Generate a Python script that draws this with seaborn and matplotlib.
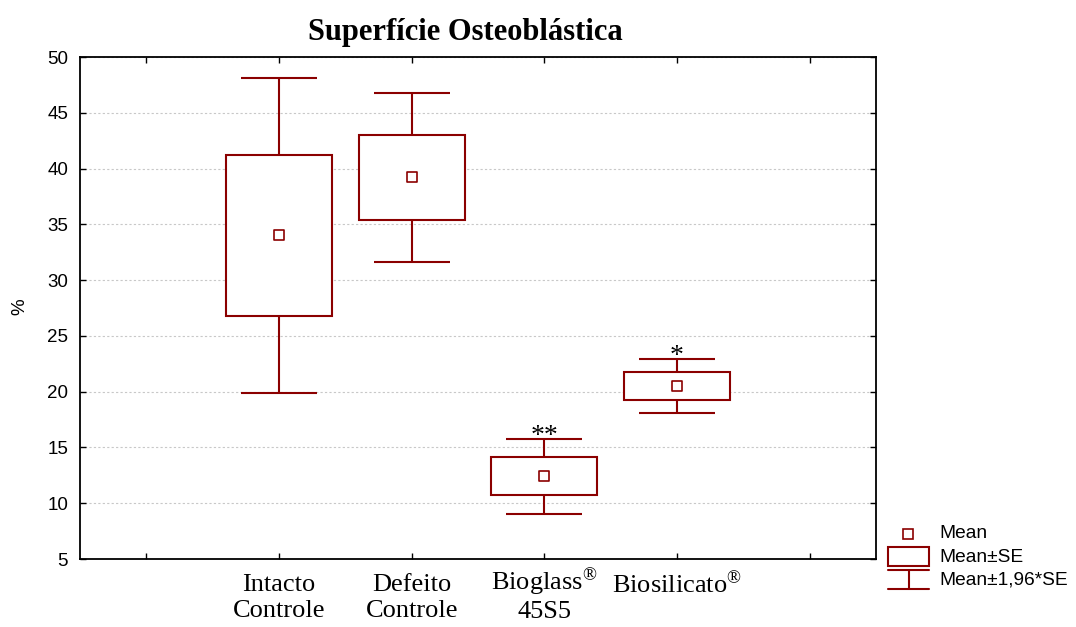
import numpy as np
import pandas as pd
import matplotlib
matplotlib.use("Agg")
import matplotlib.pyplot as plt
import matplotlib.transforms as mtransforms
from matplotlib.patches import Rectangle
import seaborn as sns

# values (mean and standard error per group)
categories = ["Intacto\nControle", "Defeito\nControle",
              r"Bioglass$^{\circledR}$" + "\n45S5", r"Biosilicato$^{\circledR}$"]
means = [34.0, 39.2, 12.4, 20.5]
se = [7.2, 3.85, 1.7, 1.25]
stars = ["", "", "**", "*"]
yticks = [5, 10, 15, 20, 25, 30, 35, 40, 45, 50]

RED = "#8b0000"
SERIF = "Liberation Serif"
SANS = "Liberation Sans"

sns.set_style("ticks")
plt.rcParams["font.family"] = [SANS, "DejaVu Sans"]
plt.rcParams["mathtext.fontset"] = "custom"
plt.rcParams["mathtext.rm"] = SERIF
plt.rcParams["mathtext.it"] = SERIF
plt.rcParams["text.color"] = "black"
plt.rcParams["xtick.color"] = "black"
plt.rcParams["ytick.color"] = "black"

pos = np.arange(len(categories))
means = np.array(means)
se = np.array(se)
df = pd.DataFrame({"pos": pos, "mean": means})

W, H = 1076, 627
fig = plt.figure(figsize=(W / 100, H / 100), dpi=100)
ax = fig.add_axes([80 / W, (H - 559) / H, 796 / W, 502 / H])

# whiskers: mean +- 1.96*SE
ax.errorbar(pos, means, yerr=1.96 * se, fmt="none", ecolor=RED,
            elinewidth=1.5, capsize=27.4, capthick=1.5, zorder=1.5)
# boxes: mean +- SE
ax.bar(pos, 2 * se, bottom=means - se, width=0.8, facecolor="white",
       edgecolor=RED, linewidth=1.5, zorder=2)
# mean markers
sns.scatterplot(data=df, x="pos", y="mean", marker="s", s=42,
                facecolor="white", edgecolor=RED, linewidth=1.2,
                zorder=3, ax=ax, legend=False)

for p, m, s, st in zip(pos, means, se, stars):
    if st:
        ax.annotate(st, xy=(p, m + 1.96 * s), xytext=(0, -3),
                    textcoords="offset points", ha="center", va="baseline",
                    fontsize=20, family=SERIF, color="black")

ax.set_xlim(-1.5, 4.5)
ax.set_ylim(5, 50)
ax.set_xticks([-1, 0, 1, 2, 3, 4])
ax.set_xticklabels([""] + categories + [""])
ax.set_yticks(yticks)
ax.set_xlabel("")
ax.set_ylabel("")
ax.tick_params(axis="both", direction="in", top=True, right=True,
               length=4.5, width=1.0, color="black")
ax.tick_params(axis="x", pad=11)
ax.tick_params(axis="y", labelsize=13.5, pad=8.5)
for lab in ax.get_xticklabels():
    lab.set_fontfamily(SERIF)
    lab.set_fontsize(19)
# the superscripts push those labels down; lift them back in line
for idx, px in [(3, 8), (4, 3)]:
    lift = mtransforms.ScaledTranslation(0, px / 100, fig.dpi_scale_trans)
    lab = ax.get_xticklabels()[idx]
    lab.set_transform(lab.get_transform() + lift)

ax.yaxis.grid(True, linestyle=(0, (2, 2)), color="#c8c8c8", linewidth=0.8)
ax.set_axisbelow(True)
for sp in ax.spines.values():
    sp.set_visible(True)
    sp.set_linewidth(1.3)
    sp.set_color("black")

fig.text(465 / W, 1 - 40 / H, "Superfície Osteoblástica", ha="center",
         va="baseline", fontsize=22, fontweight="bold", family=SERIF)
fig.text(20 / W, 1 - 307 / H, "%", rotation=90, ha="center", va="center",
         fontsize=13.5)

# legend drawn in pixel coordinates at the lower right
lax = fig.add_axes([880 / W, (H - 600) / H, 196 / W, 90 / H])
lax.set_xlim(880, 1076)
lax.set_ylim(600, 510)
lax.axis("off")
lax.plot([908], [534], marker="s", ms=6.5, mfc="white", mec=RED, mew=1.2)
lax.add_patch(Rectangle((888, 547), 41, 19, fill=False, ec=RED, lw=1.5))
lax.plot([888, 929], [570, 570], color=RED, lw=1.5)
lax.plot([888, 929], [589, 589], color=RED, lw=1.5)
lax.plot([909, 909], [570, 589], color=RED, lw=1.5)
for y, t in [(534, "Mean"), (557, "Mean±SE"), (580, "Mean±1,96*SE")]:
    lax.text(939, y, t, ha="left", va="center", fontsize=13.8)

fig.savefig("out.png", dpi=100)
